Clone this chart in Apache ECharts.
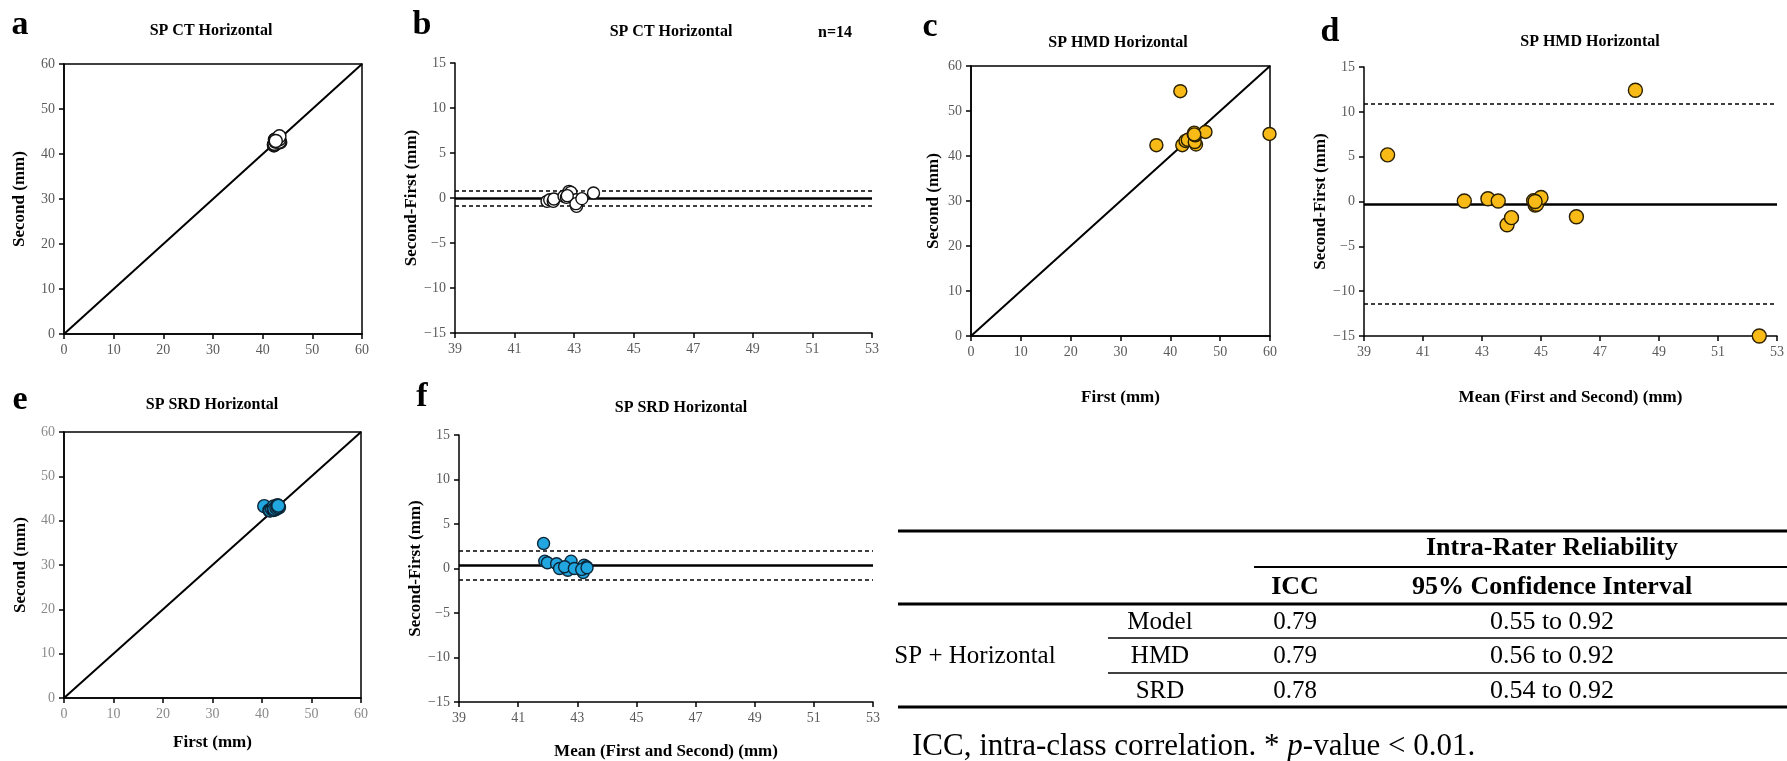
<!DOCTYPE html>
<html>
<head>
<meta charset="utf-8">
<script src="https://cdn.jsdelivr.net/npm/echarts@6/dist/echarts.min.js"></script>
<style>
html, body { margin: 0; padding: 0; background: #fff; }
#main { width: 1787px; height: 761px; }
</style>
</head>
<body>
<div id="main"></div>
<script>
// ---- data ----
// CT (white points)
var ctFirst  = [42.27, 42.28, 42.49, 42.38, 42.57, 42.46, 42.58, 42.70, 43.16, 43.54, 43.38, 43.30, 43.37, 42.64];
var ctSecond = [41.90, 42.09, 42.12, 42.27, 42.76, 43.20, 43.21, 42.78, 42.97, 42.62, 42.75, 43.23, 43.93, 42.90];
var ctMean   = [42.09, 42.18, 42.30, 42.32, 42.66, 42.83, 42.89, 42.74, 43.06, 43.08, 43.06, 43.26, 43.65, 42.77];
var ctDiff   = [-0.37, -0.19, -0.37, -0.11, 0.19, 0.74, 0.63, 0.07, -0.19, -0.93, -0.63, -0.07, 0.56, 0.26];
var ctLines  = [-0.03, 0.85, -0.85];   // mean, upper LoA, lower LoA

// HMD (yellow points)
var hmdFirst  = [37.2, 42.0, 59.9, 42.4, 43.05, 43.5, 45.15, 44.9, 44.7, 45.0, 45.0, 44.8, 47.05, 44.8];
var hmdSecond = [42.4, 54.4, 44.9, 42.4, 43.35, 43.6, 42.55, 43.1, 44.8, 44.6, 44.7, 45.2, 45.35, 44.8];
var hmdMean   = [39.8, 48.2, 52.4, 42.4, 43.2, 43.55, 43.85, 44.0, 44.75, 44.8, 44.85, 45.0, 46.2, 44.8];
var hmdDiff   = [5.2, 12.4, -15.0, 0.05, 0.3, 0.05, -2.6, -1.8, 0.1, -0.4, -0.3, 0.45, -1.7, 0.0];
var hmdLines  = [-0.3, 10.85, -11.44];

// SRD (blue points)
var srdFirst  = [40.45, 41.49, 41.67, 42.04, 42.40, 42.78, 42.38, 43.43, 43.04, 43.22, 42.47, 42.90, 43.20, 43.29];
var srdSecond = [43.27, 42.32, 42.31, 42.57, 42.40, 42.59, 43.21, 42.98, 43.42, 43.41, 42.67, 42.90, 43.10, 43.37];
var srdMean   = [41.86, 41.90, 41.99, 42.30, 42.40, 42.68, 42.79, 43.20, 43.23, 43.31, 42.57, 42.90, 43.15, 43.33];
var srdDiff   = [2.82, 0.83, 0.64, 0.53, 0.00, -0.19, 0.83, -0.45, 0.38, 0.19, 0.20, 0.00, -0.10, 0.08];
var srdLines  = [0.37, 1.99, -1.25];

var identityRange = [0, 60];

// table
var tableGroup   = 'SP + Horizontal';
var tableHeader  = 'Intra-Rater Reliability';
var tableColumns = ['ICC', '95% Confidence Interval'];
var tableDevices = ['Model', 'HMD', 'SRD'];
var tableIcc     = ['0.79', '0.79', '0.78'];
var tableCi      = ['0.55 to 0.92', '0.56 to 0.92', '0.54 to 0.92'];

var serif = 'Liberation Serif';

function pairs(xs, ys) {
    return xs.map(function (x, i) { return [x, ys[i]]; });
}

function axis(gi, dim, min, max, interval, name, nameGap, labelColor) {
    return {
        type: 'value', gridIndex: gi, min: min, max: max, interval: interval,
        position: dim === 'x' ? 'bottom' : 'left',
        name: name, nameLocation: 'middle', nameGap: nameGap,
        nameTextStyle: { fontFamily: serif, fontWeight: 'bold', fontSize: 17, color: '#000' },
        axisLine: { show: true, onZero: false, lineStyle: { color: '#000', width: 1.5 } },
        axisTick: { show: true, inside: false, length: 5, lineStyle: { color: '#000', width: 1.5 } },
        axisLabel: {
            fontFamily: serif, fontSize: 14, color: labelColor, margin: 9,
            formatter: function (v) { return String(v).replace('-', '\u2212'); }
        },
        splitLine: { show: false }
    };
}

function identitySeries(gi) {
    return {
        type: 'line', xAxisIndex: gi, yAxisIndex: gi, silent: true, z: 1,
        data: identityRange.map(function (v) { return [v, v]; }),
        symbol: 'none', lineStyle: { color: '#000', width: 2 }
    };
}

function pointSeries(gi, data, fill, border, size, lines) {
    var s = {
        type: 'scatter', xAxisIndex: gi, yAxisIndex: gi, z: 3,
        data: data, symbolSize: size,
        itemStyle: { color: fill, borderColor: border, borderWidth: 1.4, opacity: 1 }
    };
    if (lines) {
        s.markLine = {
            silent: true, symbol: 'none', z: 1, label: { show: false }, animation: false,
            data: [
                { yAxis: lines[0], lineStyle: { type: 'solid', width: 2.5, color: '#000' } },
                { yAxis: lines[1], lineStyle: { type: [4, 3], width: 1.5, color: '#000' } },
                { yAxis: lines[2], lineStyle: { type: [4, 3], width: 1.5, color: '#000' } }
            ]
        };
    }
    return s;
}

function txt(x, y, text, size, weight, align) {
    return {
        type: 'text', x: x, y: y, silent: true,
        style: { text: text, fontFamily: serif, fontSize: size, fontWeight: weight || 'normal',
                 fill: '#000', align: align || 'center', verticalAlign: 'middle' }
    };
}

function hline(x1, x2, y, w) {
    return { type: 'line', silent: true, shape: { x1: x1, y1: y, x2: x2, y2: y },
             style: { stroke: '#000', lineWidth: w } };
}

var boxGrid = { show: true, borderColor: '#000', borderWidth: 1.5, backgroundColor: 'transparent' };

var grids = [
    Object.assign({ left: 64,   top: 64,  width: 298, height: 270 }, boxGrid),   // a
    { left: 455,  top: 63,  width: 417, height: 270 },                           // b
    Object.assign({ left: 971,  top: 66,  width: 299, height: 270 }, boxGrid),   // c
    { left: 1364, top: 67,  width: 418, height: 269 },                           // d
    Object.assign({ left: 64,   top: 432, width: 297, height: 266 }, boxGrid),   // e
    { left: 459,  top: 435, width: 414, height: 267 }                            // f
];

var xAxes = [
    axis(0, 'x', 0, 60, 10, '', 0, '#5a5a5a'),
    axis(1, 'x', 39, 53, 2, '', 0, '#5a5a5a'),
    axis(2, 'x', 0, 60, 10, 'First (mm)', 53, '#5a5a5a'),
    axis(3, 'x', 39, 53, 2, 'Mean (First and Second) (mm)', 53, '#5a5a5a'),
    axis(4, 'x', 0, 60, 10, 'First (mm)', 36, '#8a8a8a'),
    axis(5, 'x', 39, 53, 2, 'Mean (First and Second) (mm)', 41, '#5a5a5a')
];
var yAxes = [
    axis(0, 'y', 0, 60, 10, 'Second (mm)', 36, '#5a5a5a'),
    axis(1, 'y', -15, 15, 5, 'Second-First (mm)', 27, '#5a5a5a'),
    axis(2, 'y', 0, 60, 10, 'Second (mm)', 29, '#5a5a5a'),
    axis(3, 'y', -15, 15, 5, 'Second-First (mm)', 27, '#5a5a5a'),
    axis(4, 'y', 0, 60, 10, 'Second (mm)', 35, '#8a8a8a'),
    axis(5, 'y', -15, 15, 5, 'Second-First (mm)', 31, '#5a5a5a')
];

var white = '#ffffff', yellow = '#F7BA17', blue = '#22A6DF';

var series = [
    identitySeries(0),
    pointSeries(0, pairs(ctFirst, ctSecond), white, '#111', 13),
    pointSeries(1, pairs(ctMean, ctDiff), white, '#111', 12, ctLines),
    identitySeries(2),
    pointSeries(2, pairs(hmdFirst, hmdSecond), yellow, '#2a2000', 13),
    pointSeries(3, pairs(hmdMean, hmdDiff), yellow, '#2a2000', 14, hmdLines),
    identitySeries(4),
    pointSeries(4, pairs(srdFirst, srdSecond), blue, '#0c2638', 13),
    pointSeries(5, pairs(srdMean, srdDiff), blue, '#0c2638', 12, srdLines)
];

// panel letters and titles
var graphics = [
    txt(20, 25, 'a', 34, 'bold'),
    txt(422, 25, 'b', 34, 'bold'),
    txt(930, 27, 'c', 34, 'bold'),
    txt(1330, 32, 'd', 34, 'bold'),
    txt(20, 400, 'e', 34, 'bold'),
    txt(422, 397, 'f', 34, 'bold'),
    txt(211, 31, 'SP CT Horizontal', 16, 'bold'),
    txt(671, 32, 'SP CT Horizontal', 16, 'bold'),
    txt(835, 33, 'n=14', 16, 'bold'),
    txt(1118, 43, 'SP HMD Horizontal', 16, 'bold'),
    txt(1590, 42, 'SP HMD Horizontal', 16, 'bold'),
    txt(212, 405, 'SP SRD Horizontal', 16, 'bold'),
    txt(681, 408, 'SP SRD Horizontal', 16, 'bold')
];

// table
var tLeft = 898, tRight = 1787, tSub = 1108, tHead = 1254;
var colGroup = 975, colDev = 1160, colIcc = 1295, colCi = 1552;
var rowY = [622, 656, 691];
graphics.push(hline(tLeft, tRight, 531, 3));
graphics.push(txt(colCi, 548, tableHeader, 26, 'bold'));
graphics.push(hline(tHead, tRight, 567, 2));
graphics.push(txt(colIcc, 587, tableColumns[0], 26, 'bold'));
graphics.push(txt(colCi, 587, tableColumns[1], 26, 'bold'));
graphics.push(hline(tLeft, tRight, 604, 3));
for (var i = 0; i < tableDevices.length; i++) {
    graphics.push(txt(colDev, rowY[i], tableDevices[i], 25));
    graphics.push(txt(colIcc, rowY[i], tableIcc[i], 25));
    graphics.push(txt(colCi, rowY[i], tableCi[i], 26));
}
graphics.push(hline(tSub, tRight, 638, 1.5));
graphics.push(hline(tSub, tRight, 673, 1.5));
graphics.push(txt(colGroup, rowY[1], tableGroup, 25));
graphics.push(hline(tLeft, tRight, 707, 3));
graphics.push({
    type: 'text', x: 912, y: 747, silent: true,
    style: {
        text: '{n|ICC, intra-class correlation. * }{i|p}{n|-value < 0.01.}',
        verticalAlign: 'middle', align: 'left',
        rich: {
            n: { fontFamily: serif, fontSize: 31, fill: '#000' },
            i: { fontFamily: serif, fontSize: 31, fontStyle: 'italic', fill: '#000' }
        }
    }
});

var chart = echarts.init(document.getElementById('main'));
chart.setOption({
    animation: false,
    backgroundColor: '#fff',
    grid: grids,
    xAxis: xAxes,
    yAxis: yAxes,
    series: series,
    graphic: graphics
});
</script>
</body>
</html>
